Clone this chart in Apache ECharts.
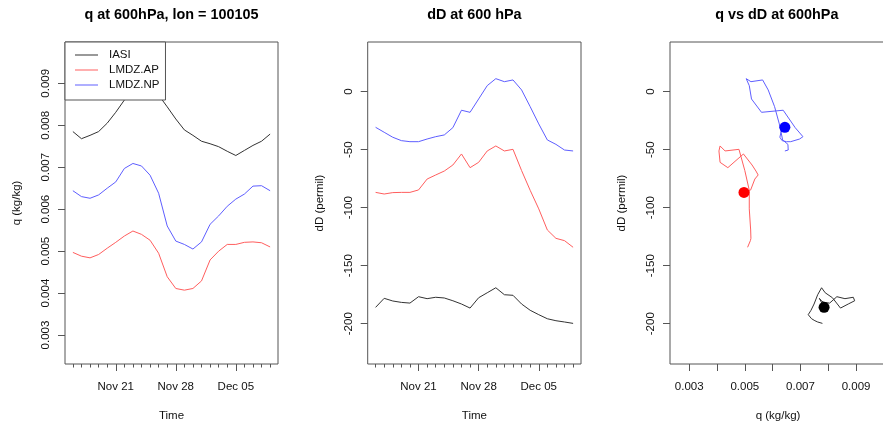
<!DOCTYPE html>
<html><head><meta charset="utf-8">
<script src="https://cdn.jsdelivr.net/npm/echarts@6/dist/echarts.min.js"></script>
<style>html,body{margin:0;padding:0;background:#fff}#c{width:883px;height:422px}</style>
</head><body><div id="c"></div>
<script>
// ---- data ----
const dates = ['Nov 16','Nov 17','Nov 18','Nov 19','Nov 20','Nov 21','Nov 22','Nov 23','Nov 24','Nov 25','Nov 26','Nov 27','Nov 28','Nov 29','Nov 30','Dec 01','Dec 02','Dec 03','Dec 04','Dec 05','Dec 06','Dec 07','Dec 08','Dec 09'];
const qIASI = [0.00785,0.00768,0.00776,0.00785,0.00805,0.00831,0.00860,0.00890,0.00897,0.00895,0.00872,0.00844,0.00815,0.00789,0.00776,0.00762,0.00756,0.00749,0.00738,0.00728,0.00740,0.00752,0.00762,0.00779];
const qAP   = [0.00497,0.00488,0.00484,0.00492,0.00507,0.00521,0.00536,0.00548,0.00540,0.00526,0.00495,0.00439,0.00411,0.00407,0.00411,0.00429,0.00479,0.00500,0.00516,0.00516,0.00521,0.00522,0.00520,0.00510];
const qNP   = [0.00644,0.00630,0.00626,0.00634,0.00650,0.00665,0.00697,0.00709,0.00703,0.00681,0.00638,0.00560,0.00524,0.00516,0.00505,0.00522,0.00564,0.00584,0.00607,0.00624,0.00636,0.00655,0.00656,0.00644];
const dIASI = [-185.9,-178.1,-180.4,-181.6,-182.2,-176.7,-178.4,-177.2,-177.8,-180.2,-183.0,-186.5,-177.6,-173.3,-169.0,-175.0,-175.5,-183.0,-188.4,-192.2,-195.7,-197.4,-198.5,-199.7];
const dAP   = [-86.8,-88.2,-87.0,-86.8,-86.8,-84.7,-75.3,-71.8,-68.4,-63.2,-53.7,-65.5,-60.9,-51.1,-46.8,-51.1,-49.7,-68.0,-85.0,-101.0,-119.2,-126.4,-128.4,-134.1];
const dNP   = [-30.7,-35.0,-39.3,-42.2,-43.1,-43.1,-40.8,-38.8,-37.3,-31.0,-16.0,-17.8,-6.3,5.2,11.2,8.6,10.1,1.5,-12.9,-27.8,-41.6,-45.4,-50.3,-51.1];
const timeTickLabels = ['Nov 21','Nov 28','Dec 05'];
const qTicks = [0.003,0.004,0.005,0.006,0.007,0.008,0.009];
const qTickLabelsX = [0.003,0.005,0.007,0.009];
const dTicks = [-200,-150,-100,-50,0];
const seriesNames = ['IASI','LMDZ.AP','LMDZ.NP'];
const titles = ['q at 600hPa, lon = 100105','dD at 600 hPa','q vs dD at 600hPa'];

// ---- build ----
const qSets = [qIASI,qAP,qNP];
const dSets = [dIASI,dAP,dNP];
const lineColors = ['#333333','#ff5e5e','#5e5eff'];
const dotColors = ['#000000','#ff0000','#0000ff'];
const dayIdx = dates.map((d,i)=>i);
const majorIdx = timeTickLabels.map(l=>dates.indexOf(l));
const FONT = '"Liberation Sans", Arial, Helvetica, sans-serif';
const TXT = '#111';
const BOX = '#555';
const FS = 11.5;

const gridsPx = [
  {left:65, width:213},
  {left:367.7, width:213.3},
  {left:670, width:216}
];
const grid = gridsPx.map(g=>({left:g.left, width:g.width, top:42, height:322, show:true,
  borderColor:BOX, borderWidth:1, backgroundColor:'rgba(0,0,0,0)', containLabel:false,
  outerBoundsMode:'none'}));

const dayMin = -0.92, dayMax = dates.length - 1 + 0.92;
function timeAxes(gi){
  return [
    {type:'value', gridIndex:gi, position:'bottom', min:dayMin, max:dayMax,
     axisLine:{show:false, onZero:false}, splitLine:{show:false},
     axisTick:{show:true, length:3.5, customValues:dayIdx, lineStyle:{color:BOX}},
     axisLabel:{show:false}},
    {type:'value', gridIndex:gi, position:'bottom', min:dayMin, max:dayMax,
     axisLine:{show:false, onZero:false}, splitLine:{show:false},
     axisTick:{show:true, length:7, customValues:majorIdx, lineStyle:{color:BOX}},
     axisLabel:{show:true, customValues:majorIdx, margin:17, color:TXT, fontSize:FS, fontFamily:FONT,
       formatter:v=>dates[Math.round(v)]},
     name:'Time', nameLocation:'middle', nameGap:46,
     nameTextStyle:{color:TXT, fontSize:FS, fontFamily:FONT}}
  ];
}
// panel 3 box extends slightly past the canvas edge (right border clipped)
const qMin3 = 0.00231, qMax3 = 0.00231 + 0.00768 * 216 / 213.6;
const xAxis = [...timeAxes(0), ...timeAxes(1),
  {type:'value', gridIndex:2, position:'bottom', min:qMin3, max:qMax3,
   axisLine:{show:false, onZero:false}, splitLine:{show:false},
   axisTick:{show:true, length:7, customValues:qTicks, lineStyle:{color:BOX}},
   axisLabel:{show:true, customValues:qTickLabelsX, margin:17, color:TXT, fontSize:FS, fontFamily:FONT,
     formatter:v=>v.toFixed(3)},
   name:'q (kg/kg)', nameLocation:'middle', nameGap:46,
   nameTextStyle:{color:TXT, fontSize:FS, fontFamily:FONT}}
];
function yAx(gi,min,max,ticks,name,fmt){
  return {type:'value', gridIndex:gi, position:'left', min:min, max:max,
    axisLine:{show:false, onZero:false}, splitLine:{show:false},
    axisTick:{show:true, length:7, customValues:ticks, lineStyle:{color:BOX}},
    axisLabel:{show:true, customValues:ticks, rotate:90, margin:13, color:TXT, fontSize:FS, fontFamily:FONT,
      formatter:fmt},
    name:name, nameLocation:'middle', nameRotate:90, nameGap:42,
    nameTextStyle:{color:TXT, fontSize:FS, fontFamily:FONT}};
}
const yAxis = [
  yAx(0,0.00231,0.009985,qTicks,'q (kg/kg)',v=>v.toFixed(3)),
  yAx(1,-234.7,42.8,dTicks,'dD (permil)',v=>String(Math.round(v))),
  yAx(2,-234.7,42.8,dTicks,'dD (permil)',v=>String(Math.round(v)))
];

const series = [];
seriesNames.forEach((nm,k)=>{
  const base = {type:'line', name:nm, symbol:'none', showSymbol:false, silent:true,
    color:lineColors[k], lineStyle:{width:1, color:lineColors[k]}, z:2};
  series.push(Object.assign({}, base, {xAxisIndex:0, yAxisIndex:0,
    data:qSets[k].map((v,i)=>[i,v])}));
  series.push(Object.assign({}, base, {xAxisIndex:2, yAxisIndex:1,
    data:dSets[k].map((v,i)=>[i,v])}));
  series.push(Object.assign({}, base, {xAxisIndex:4, yAxisIndex:2,
    data:qSets[k].map((v,i)=>[v,dSets[k][i]])}));
  series.push({type:'scatter', name:nm+' start', xAxisIndex:4, yAxisIndex:2, silent:true,
    symbol:'circle', symbolSize:11, itemStyle:{color:dotColors[k], opacity:1}, z:3,
    data:[[qSets[k][0], dSets[k][0]]]});
});

const centers = [65+213/2, 367.7+213.3/2, 670+(883.6-670)/2];
const title = titles.map((t,i)=>({text:t, left:centers[i], top:8, textAlign:'center', padding:0,
  textStyle:{fontSize:14.4, fontWeight:'bold', color:'#000', fontFamily:FONT}}));

const chart = echarts.init(document.getElementById('c'), null, {renderer:'canvas'});
chart.setOption({
  animation:false,
  backgroundColor:'#fff',
  textStyle:{fontFamily:FONT},
  title:title,
  legend:{data:seriesNames, orient:'vertical', left:65, top:42, padding:[6,6,8,10],
    itemGap:1, itemWidth:23, itemHeight:1, icon:'rect', selectedMode:false,
    backgroundColor:'#fff', borderColor:BOX, borderWidth:1, borderRadius:0,
    textStyle:{fontSize:FS, color:TXT, fontFamily:FONT, lineHeight:14, padding:[0,0,0,6]}},
  grid:grid, xAxis:xAxis, yAxis:yAxis, series:series
});
</script></body></html>
